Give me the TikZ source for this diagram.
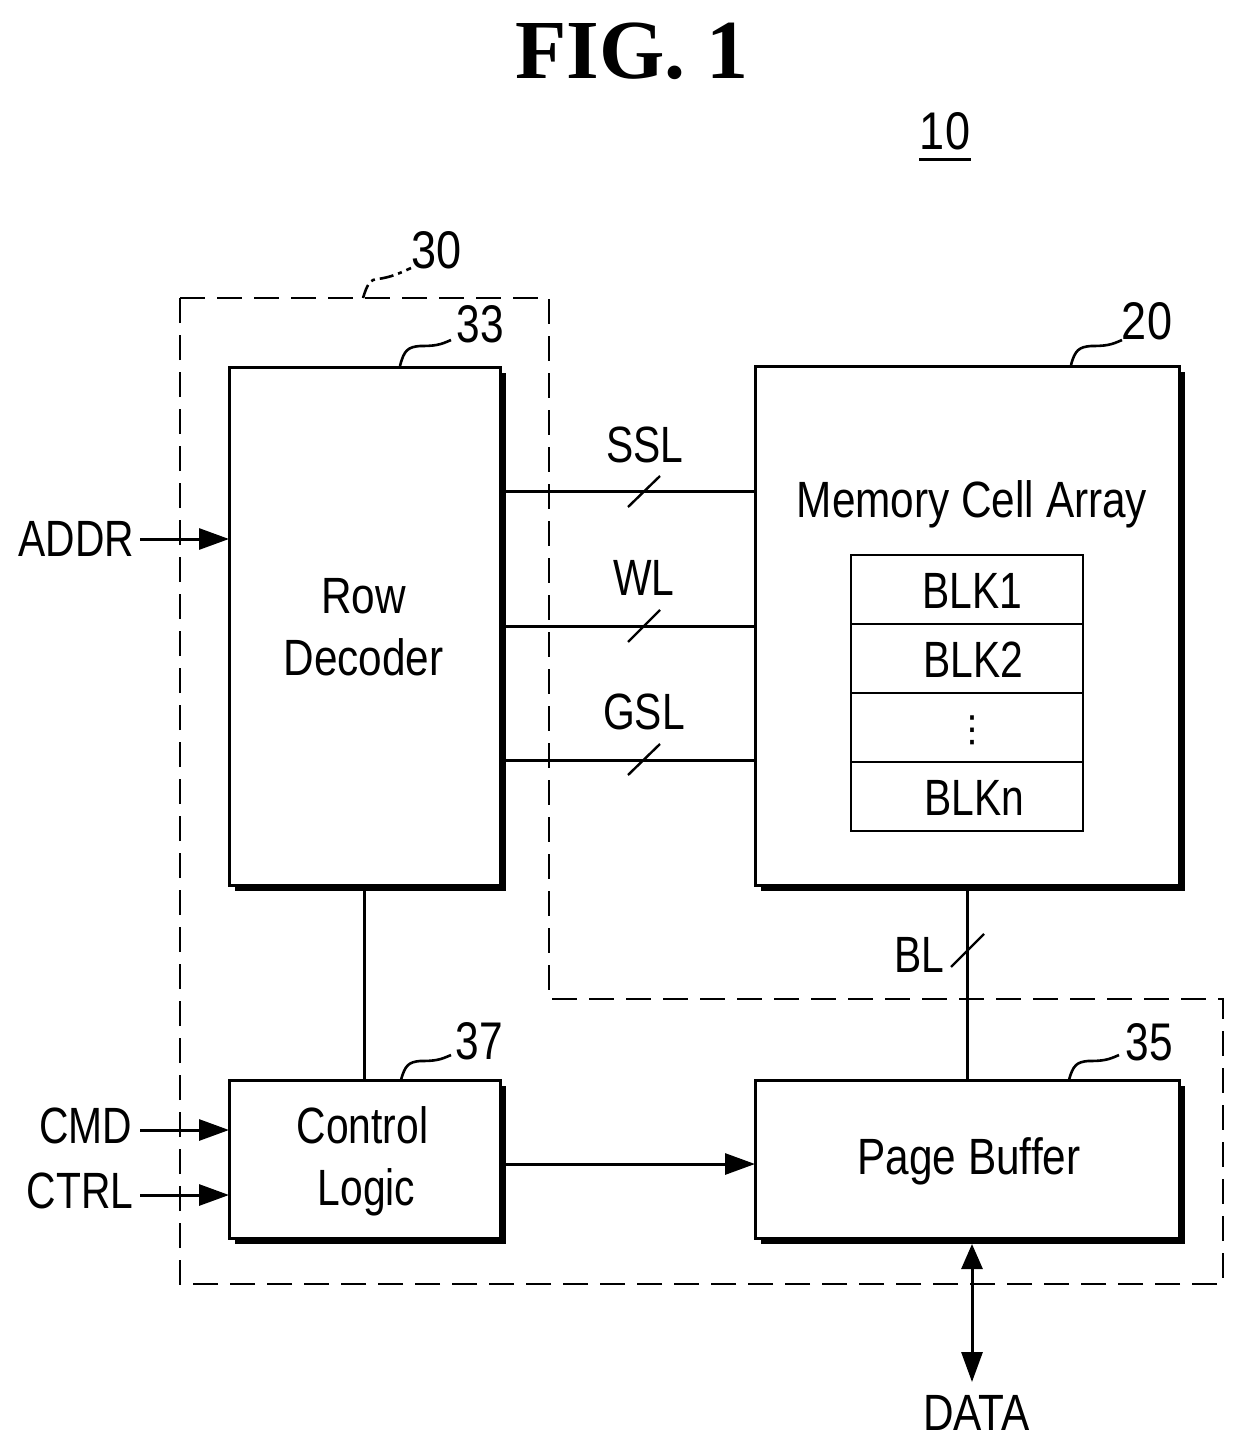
\documentclass[tikz,border=0pt]{standalone}
\usepackage{fontspec}
\usetikzlibrary{arrows.meta,shadows,positioning}
\setmainfont[FakeStretch=0.8]{Liberation Sans}
\newfontfamily\widefont[FakeStretch=0.83]{Liberation Sans}
\newfontfamily\numfont[FakeStretch=0.85]{Liberation Sans}
\newfontfamily\titlefont{Liberation Serif}
\newfontfamily\dotsfont{DejaVu Sans}
\tikzset{
  x=1pt,y=-1pt,
  lab/.style={inner sep=0pt,outer sep=0pt,align=center,font=\fontsize{51}{62}\selectfont},
  wlab/.style={inner sep=0pt,outer sep=0pt,align=center,font=\widefont\fontsize{51}{62}\selectfont},
  num/.style={inner sep=0pt,outer sep=0pt,font=\numfont\fontsize{53}{62}\selectfont},
  numn/.style={inner sep=0pt,outer sep=0pt,font=\fontsize{53}{62}\selectfont},
  boxs/.style={draw=black,line width=3pt,fill=white,inner sep=0pt,outer sep=0pt,
    drop shadow={shadow xshift=6pt,shadow yshift=-6pt,fill=black,opacity=1}},
  blk/.style={draw=black,line width=2.2pt,fill=white,inner sep=0pt,outer sep=0pt,
    minimum width=232pt,minimum height=69pt},
  wire/.style={draw=black,line width=3pt},
  arr/.style={wire,-{Triangle[length=30pt,width=21pt]}},
  biarr/.style={wire,{Triangle[length=25pt,width=21pt]}-{Triangle[length=30pt,width=21pt]}},
  tick/.style={draw=black,line width=2.4pt},
  lead/.style={draw=black,line width=2.6pt},
  bound/.style={draw=black,line width=2.2pt,dash pattern=on 25pt off 12pt},
}
\begin{document}
\begin{tikzpicture}
\useasboundingbox (0,0) rectangle (1244,1450);
\node[inner sep=0pt,font=\titlefont\bfseries\fontsize{84}{90}\selectfont] (title) at (632,51) {FIG. 1};
\node[num] (n10) at (945,131) {10};
\draw[line width=3pt] (919,160) -- (971,160);

\draw[bound] (180,298) -- (549,298) -- (549,999) -- (1223,999) -- (1223,1284) -- (180,1284) -- cycle;

\node[boxs,minimum width=271pt,minimum height=518pt] (rd) at (364.5,626) {};
\node[boxs,minimum width=424pt,minimum height=519pt] (mem) at (967,625.5) {};
\node[boxs,minimum width=271pt,minimum height=158pt] (cl) at (364.5,1159) {};
\node[boxs,minimum width=424pt,minimum height=158pt] (pb) at (967,1159) {};
\node[wlab] (rdtext) at (363.5,627) {Row\\Decoder};
\node[lab] (cltext) at (362.5,1161) {Control\\\hspace*{8pt}Logic};
\node[wlab] (pbtext) at (969,1161) {Page Buffer};
\node[wlab] (memtext) at (972,504) {Memory Cell Array};

\node[blk] (b1) at (967,589.5) {};
\node[blk,below=0pt of b1] (b2) {};
\node[blk,below=0pt of b2] (b3) {};
\node[blk,below=0pt of b3] (b4) {};
\node[lab] (b1t) at (972,591) {BLK1};
\node[lab] (b2t) at (973,660) {BLK2};
\node[inner sep=0pt,font=\dotsfont\fontsize{36}{40}\selectfont] (b3d) at (972,730) {⋮};
\node[lab] (b4t) at (974,798) {BLKn};

\node[lab] (ssl) at (645,445) {SSL};
\node[lab] (wl) at (644,578) {WL};
\node[lab] (gsl) at (644,712) {GSL};
\node[lab] (bl) at (919,955) {BL};
\node[lab] (addr) at (76.5,539) {ADDR};
\node[lab] (cmd) at (85.5,1126) {CMD};
\node[lab] (ctrl) at (80,1191) {CTRL};
\node[wlab] (data) at (976.5,1413) {DATA};
\node[num] (n30) at (437,250) {30};
\node[numn] (n33) at (480.5,324) {33};
\node[num] (n20) at (1147,321) {20};
\node[numn] (n37) at (479.5,1041) {37};
\node[numn] (n35) at (1149,1042) {35};

\coordinate (addrin) at (140,539);
\coordinate (cmdin) at (140,1130);
\coordinate (ctrlin) at (140,1195);
\coordinate (pbtop) at (972,1244);
\coordinate (dataend) at (972,1382);

\draw[wire] (rd.east |- 0,491) -- (mem.west |- 0,491);
\draw[wire] (rd.east |- 0,626) -- (mem.west |- 0,626);
\draw[wire] (rd.east |- 0,760) -- (mem.west |- 0,760);
\draw[wire] (rd.south) -- (cl.north);
\draw[wire] (mem.south) -- (pb.north);
\draw[arr] (addrin) -- (rd.west |- addrin);
\draw[arr] (cmdin) -- (cl.west |- cmdin);
\draw[arr] (ctrlin) -- (cl.west |- ctrlin);
\draw[arr] (cl.east |- 0,1164) -- (pb.west |- 0,1164);
\draw[biarr] (pbtop) -- (dataend);

\draw[tick] (628,507) -- (660,476);
\draw[tick] (628,642) -- (660,610);
\draw[tick] (628,775) -- (660,744);
\draw[tick] (951,967) -- (984,934);

\draw[lead,dash pattern=on 14pt off 5pt on 4pt off 5pt] (363,298) .. controls (367,285) and (370,279) .. (378,279) .. controls (392,277) and (400,273) .. (411,268);
\draw[lead] (400,366) .. controls (404,350) and (408,347) .. (420,346) .. controls (435,346) and (440,345) .. (451,340);
\draw[lead] (1071,365) .. controls (1075,350) and (1079,347) .. (1091,346) .. controls (1106,346) and (1111,345) .. (1122,340);
\draw[lead] (401,1080) .. controls (405,1065) and (409,1062) .. (420,1061) .. controls (435,1061) and (440,1060) .. (451,1055);
\draw[lead] (1069,1080) .. controls (1073,1065) and (1077,1062) .. (1088,1061) .. controls (1103,1061) and (1108,1060) .. (1119,1055);
\end{tikzpicture}
\end{document}
